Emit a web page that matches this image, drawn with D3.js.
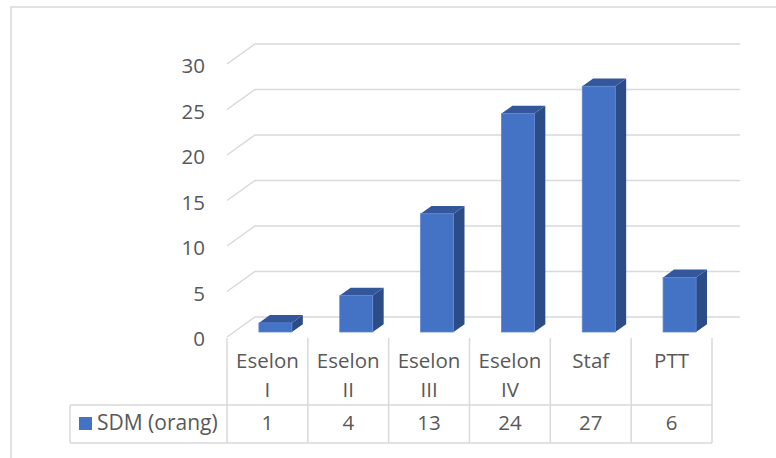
<!DOCTYPE html>
<html>
<head>
<meta charset="utf-8">
<script src="https://cdn.jsdelivr.net/npm/d3@7"></script>
<style>
  body { margin: 0; background: #fff; }
  svg text { font-family: "Open Sans", sans-serif; fill: #595959; }
</style>
</head>
<body>
<div id="chart"></div>
<script>
// data
var categories = ["Eselon I", "Eselon II", "Eselon III", "Eselon IV", "Staf", "PTT"],
    values = [1, 4, 13, 24, 27, 6],
    yTicks = [0, 5, 10, 15, 20, 25, 30],
    seriesName = "SDM (orang)";

var W = 776, H = 458,
    floorY = 337,          // front edge of the floor
    depthX = 28, depthY = -20,
    barFront = 0.25, barBack = 0.64,
    fontSize = 20.5;

var svg = d3.select("#chart").append("svg")
    .attr("width", W)
    .attr("height", H);

// chart border
svg.append("rect")
    .attr("x", 11).attr("y", 7)
    .attr("width", W + 20).attr("height", H + 20)
    .attr("fill", "none")
    .attr("stroke", "#d9d9d9")
    .attr("stroke-width", 1.5);

var x = d3.scaleBand()
    .domain(categories)
    .range([227, 712])
    .paddingInner(0).paddingOuter(0);

var y = d3.scaleLinear()
    .domain([0, 30])
    .range([0, 273]);

//gridlines: side wall diagonal + back wall
var grid = svg.append("g")
    .attr("stroke", "#d9d9d9")
    .attr("stroke-width", 1.5)
    .attr("fill", "none");

grid.selectAll("path")
    .data(yTicks)
    .enter().append("path")
        .attr("d", function(d) {
            var fy = floorY - y(d);
            return "M" + x.range()[0] + "," + fy +
                "L" + (x.range()[0] + depthX) + "," + (fy + depthY) +
                "L" + (x.range()[1] + depthX) + "," + (fy + depthY);
        });

// y labels
svg.append("g")
    .selectAll("text")
    .data(yTicks)
    .enter().append("text")
        .attr("x", 205)
        .attr("y", function(d) { return floorY - y(d) + 2; })
        .attr("dy", "0.35em")
        .attr("text-anchor", "end")
        .attr("font-size", fontSize)
        .text(function(d) { return d; });

// bars
var barW = 33;
var bars = svg.append("g")
    .selectAll("g")
    .data(values)
    .enter().append("g");

function corners(d, i) {
    var left = x(categories[i]) + (x.bandwidth() - barW) / 2 + 1,
        fx = left + depthX * barFront,
        fy = floorY + depthY * barFront,
        bx = left + depthX * barBack,
        by = floorY + depthY * barBack,
        h = y(d);
    return {fx: fx, fy: fy, bx: bx, by: by, h: h};
}

// side face
bars.append("path")
    .attr("fill", "#2c4c88")
    .attr("d", function(d, i) {
        var c = corners(d, i);
        return "M" + (c.fx + barW) + "," + c.fy +
            "L" + (c.bx + barW) + "," + c.by +
            "L" + (c.bx + barW) + "," + (c.by - c.h) +
            "L" + (c.fx + barW) + "," + (c.fy - c.h) + "Z";
    });

// top face
bars.append("path")
    .attr("fill", "#34579c")
    .attr("d", function(d, i) {
        var c = corners(d, i);
        return "M" + c.fx + "," + (c.fy - c.h) +
            "L" + c.bx + "," + (c.by - c.h) +
            "L" + (c.bx + barW) + "," + (c.by - c.h) +
            "L" + (c.fx + barW) + "," + (c.fy - c.h) + "Z";
    });

// front face
bars.append("rect")
    .attr("fill", "#4472c4")
    .attr("stroke", "#5b87d2")
    .attr("stroke-width", 0.8)
    .attr("x", function(d, i) { return corners(d, i).fx; })
    .attr("y", function(d, i) { var c = corners(d, i); return c.fy - c.h; })
    .attr("width", barW)
    .attr("height", function(d) { return y(d); });

// data table
var table = svg.append("g")
    .attr("stroke", "#d9d9d9")
    .attr("stroke-width", 1.5);

var cuts = categories.map(function(c) { return x(c); }).concat([x.range()[1]]);

table.selectAll("line.v")
    .data(cuts)
    .enter().append("line")
        .attr("class", "v")
        .attr("x1", function(d) { return d; })
        .attr("x2", function(d) { return d; })
        .attr("y1", floorY + 1)
        .attr("y2", 443);

table.append("line").attr("x1", 70).attr("x2", x.range()[1]).attr("y1", 405).attr("y2", 405);
table.append("line").attr("x1", 70).attr("x2", x.range()[1]).attr("y1", 443).attr("y2", 443);
table.append("line").attr("x1", 70).attr("x2", 70).attr("y1", 405).attr("y2", 443);

// category labels, wrapped to the column
var catText = svg.append("g")
    .selectAll("text")
    .data(categories)
    .enter().append("text")
        .attr("font-size", fontSize)
        .attr("text-anchor", "middle")
        .attr("x", function(d) { return x(d) + x.bandwidth() / 2; })
        .attr("y", 368);

catText.each(function(d) {
    var t = d3.select(this);
    t.text(d);
    if (this.getComputedTextLength() > x.bandwidth() - 16) {
        t.text(null);
        d.split(" ").forEach(function(w, k) {
            t.append("tspan")
                .attr("x", x(d) + x.bandwidth() / 2)
                .attr("dy", k === 0 ? 0 : 28.5)
                .text(w);
        });
    }
});

// legend key + values
svg.append("rect")
    .attr("x", 79).attr("y", 417)
    .attr("width", 13).attr("height", 13)
    .attr("fill", "#4472c4");

svg.append("text")
    .attr("x", 97).attr("y", 430)
    .attr("font-size", fontSize + 0.5)
    .text(seriesName);

svg.append("g")
    .selectAll("text")
    .data(values)
    .enter().append("text")
        .attr("font-size", fontSize)
        .attr("text-anchor", "middle")
        .attr("x", function(d, i) { return x(categories[i]) + x.bandwidth() / 2; })
        .attr("y", 430)
        .text(function(d) { return d; });
</script>
</body>
</html>
